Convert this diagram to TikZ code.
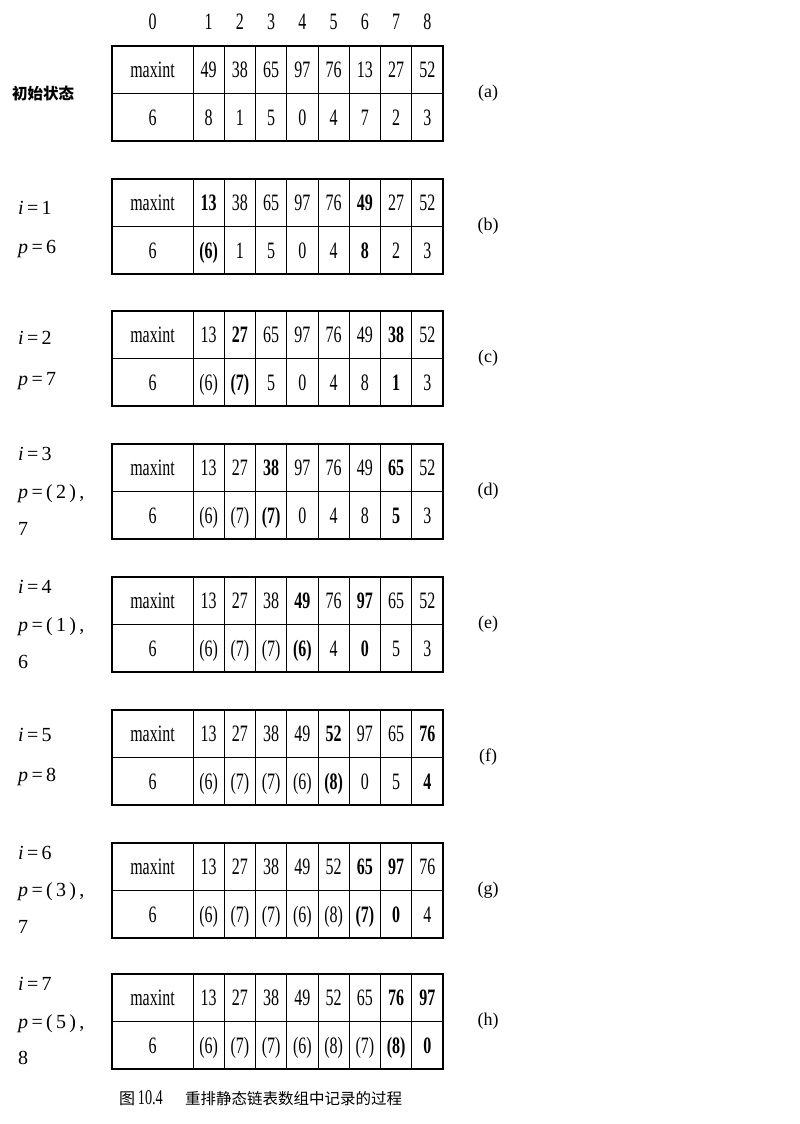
\documentclass[tikz,border=0pt]{standalone}
\usepackage{fontspec}
\setmainfont{Liberation Serif}
\newfontfamily\tabfont{Liberation Serif}[FakeStretch=0.68]
\newfontfamily\cjk{Noto Sans CJK SC}
% one table: #1 top, #2 keys, #3 links, #4 tag
\newcommand{\linktable}[4]{%
  \draw [inner line] (112,#1+47.5) -- (443,#1+47.5);
  \foreach \j in {1,...,8}
    \draw [inner line] (161.75+31.25*\j,#1) -- ++(0,95);
  \draw [frame line] (112,#1) rectangle (443,#1+95);
  \node [cell] (k#40) at (152.5,#1+31.5) {maxint};
  \node [cell] (n#40) at (152.5,#1+79.5) {6};
  \foreach \v [count=\j] in {#2}
    \node [cell] (k#4\j) at (177.4+31.25*\j,#1+31.5) {\v};
  \foreach \v [count=\j] in {#3}
    \node [cell] (n#4\j) at (177.4+31.25*\j,#1+79.5) {\v};
  \node [tag] (t#4) at (488,#1+47.5) {(#4)};
}
\begin{document}
\begin{tikzpicture}[x=1pt,y=-1pt,
    cell/.style={inner sep=0pt,anchor=base,font=\tabfont\fontsize{23.5}{25}\selectfont},
    lab/.style={inner sep=0pt,anchor=base west,font=\fontsize{20}{22}\selectfont},
    tag/.style={inner sep=0pt,font=\fontsize{18}{20}\selectfont},
    inner line/.style={line width=1pt},
    frame line/.style={line width=2.2pt}]
  \useasboundingbox (0,0) rectangle (800,1124);
  % column numbers
  \node [cell] (h0) at (152.5,29.5) {0};
  \foreach \j in {1,...,8}
    \node [cell] (h\j) at (177.4+31.25*\j,29.5) {\j};
  % the eight states
  \linktable{46}{49,38,65,97,76,13,27,52}{8,1,5,0,4,7,2,3}{a}
  \linktable{179}{\textbf{13},38,65,97,76,\textbf{49},27,52}{\textbf{(6)},1,5,0,4,\textbf{8},2,3}{b}
  \linktable{311}{13,\textbf{27},65,97,76,49,\textbf{38},52}{(6),\textbf{(7)},5,0,4,8,\textbf{1},3}{c}
  \linktable{444}{13,27,\textbf{38},97,76,49,\textbf{65},52}{(6),(7),\textbf{(7)},0,4,8,\textbf{5},3}{d}
  \linktable{577}{13,27,38,\textbf{49},76,\textbf{97},65,52}{(6),(7),(7),\textbf{(6)},4,\textbf{0},5,3}{e}
  \linktable{710}{13,27,38,49,\textbf{52},97,65,\textbf{76}}{(6),(7),(7),(6),\textbf{(8)},0,5,\textbf{4}}{f}
  \linktable{843}{13,27,38,49,52,\textbf{65},\textbf{97},76}{(6),(7),(7),(6),(8),\textbf{(7)},\textbf{0},4}{g}
  \linktable{974}{13,27,38,49,52,65,\textbf{76},\textbf{97}}{(6),(7),(7),(6),(8),(7),\textbf{(8)},\textbf{0}}{h}
  % left labels
  \node [inner sep=0pt,anchor=west,font=\cjk\bfseries\fontsize{15.5}{18}\selectfont] (la) at (12,94) {初始状态};
  \node [lab] (ib) at (18,214.5) {\textit{i}\,=\,1};
  \node [lab] (pb) at (18,253.5) {\textit{p}\,=\,6};
  \node [lab] (ic) at (18,344.5) {\textit{i}\,=\,2};
  \node [lab] (pc) at (18,385.5) {\textit{p}\,=\,7};
  \node [lab] (id) at (18,460.5) {\textit{i}\,=\,3};
  \node [lab] (pd) at (18,498.5) {\textit{p}\,=\,(\,2\,)\,,};
  \node [lab] (qd) at (18,535.5) {7};
  \node [lab] (ie) at (18,593.5) {\textit{i}\,=\,4};
  \node [lab] (pe) at (18,631.5) {\textit{p}\,=\,(\,1\,)\,,};
  \node [lab] (qe) at (18,668.5) {6};
  \node [lab] (if) at (18,741.5) {\textit{i}\,=\,5};
  \node [lab] (pf) at (18,781.5) {\textit{p}\,=\,8};
  \node [lab] (ig) at (18,859.5) {\textit{i}\,=\,6};
  \node [lab] (pg) at (18,896.5) {\textit{p}\,=\,(\,3\,)\,,};
  \node [lab] (qg) at (18,933.5) {7};
  \node [lab] (ih) at (18,990.5) {\textit{i}\,=\,7};
  \node [lab] (ph) at (18,1028.5) {\textit{p}\,=\,(\,5\,)\,,};
  \node [lab] (qh) at (18,1064.5) {8};
  % caption
  \node [inner sep=0pt,anchor=base west,font=\fontsize{16}{18}\selectfont] (cap1) at (119,1104) {{\cjk 图}\,{\tabfont\fontsize{21}{22}\selectfont 10.4}};
  \node [inner sep=0pt,anchor=base west,font=\cjk\fontsize{15.5}{18}\selectfont] (cap2) at (185,1104) {重排静态链表数组中记录的过程};
\end{tikzpicture}
\end{document}
